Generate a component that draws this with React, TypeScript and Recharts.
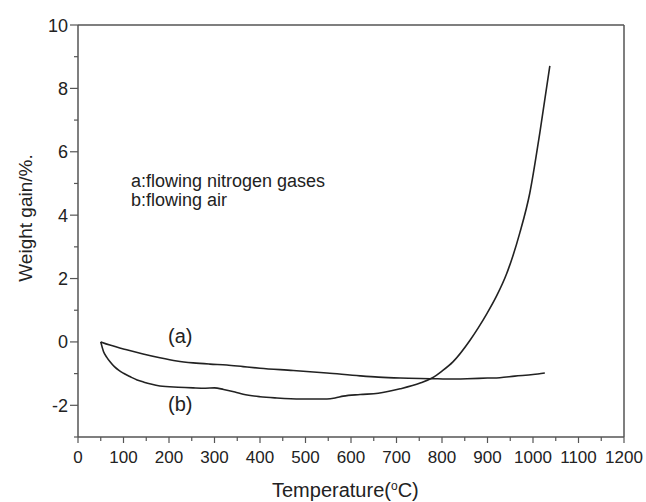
import { LineChart, Line, XAxis, YAxis, ReferenceLine } from 'recharts';

// curve (a): flowing nitrogen
const tempA = [50, 70, 107, 143, 180, 217, 253, 290, 327, 363, 400, 473, 547, 620, 660, 708, 780, 810, 855, 900, 927, 960, 1000, 1026];
const gainA = [0, -0.1, -0.25, -0.38, -0.5, -0.6, -0.66, -0.7, -0.73, -0.78, -0.83, -0.9, -0.98, -1.07, -1.11, -1.14, -1.16, -1.17, -1.16, -1.14, -1.13, -1.08, -1.03, -0.98];

// curve (b): flowing air
const tempB = [50, 56, 63, 70, 80, 90, 100, 115, 130, 145, 160, 180, 220, 253, 280, 300, 320, 345, 363, 400, 437, 490, 547, 565, 583, 620, 660, 708, 752, 778, 800, 824, 862, 880, 899, 920, 942, 971, 993, 1015, 1037];
const gainB = [0, -0.3, -0.48, -0.62, -0.78, -0.9, -0.99, -1.1, -1.2, -1.27, -1.33, -1.39, -1.43, -1.45, -1.46, -1.45, -1.5, -1.58, -1.65, -1.73, -1.77, -1.8, -1.8, -1.77, -1.71, -1.66, -1.62, -1.48, -1.3, -1.14, -0.92, -0.63, 0.06, 0.45, 0.9, 1.45, 2.15, 3.44, 4.7, 6.6, 8.71];

const xTicks = [0, 50, 100, 150, 200, 250, 300, 350, 400, 450, 500, 550, 600, 650, 700, 750, 800, 850, 900, 950, 1000, 1050, 1100, 1150, 1200];
const yTicks = [-3, -2, -1, 0, 1, 2, 3, 4, 5, 6, 7, 8, 9, 10];

const seriesA = tempA.map((t, i) => ({ t, v: gainA[i] }));
const seriesB = tempB.map((t, i) => ({ t, v: gainB[i] }));

const FONT = '"Liberation Sans", Arial, sans-serif';
const AXIS = '#555';
const INK = '#222';

const XTick = (props: any) => {
  const { x, y, payload } = props;
  const major = payload.value % 100 === 0;
  return (
    <g>
      <line x1={x} x2={x} y1={y} y2={y + (major ? 6 : 4)} stroke={AXIS} strokeWidth={1.2} />
      {major && (
        <text x={x} y={y + 26} textAnchor="middle" fontSize={17} fontFamily={FONT} fill={INK}>
          {payload.value}
        </text>
      )}
    </g>
  );
};

const YTick = (props: any) => {
  const { x, y, payload } = props;
  const major = payload.value % 2 === 0;
  return (
    <g>
      <line x1={x} x2={x - (major ? 8 : 4)} y1={y} y2={y} stroke={AXIS} strokeWidth={1.2} />
      {major && (
        <text x={x - 10} y={y + 6.5} textAnchor="end" fontSize={18} fontFamily={FONT} fill={INK}>
          {payload.value}
        </text>
      )}
    </g>
  );
};

const textStyle = {
  position: 'absolute' as const,
  fontFamily: FONT,
  fontSize: 18,
  color: INK,
  whiteSpace: 'nowrap' as const,
  lineHeight: '18px',
};

export default function App() {
  return (
    <div style={{ position: 'absolute', left: 0, top: 0, width: 646, height: 502, background: '#fff', overflow: 'hidden' }}>
      <LineChart width={646} height={502} margin={{ top: 25, right: 22, bottom: 35, left: 0 }}>
        <XAxis
          type="number"
          dataKey="t"
          domain={[0, 1200]}
          ticks={xTicks}
          interval={0}
          tickSize={0}
          tickMargin={0}
          height={30}
          axisLine={{ stroke: AXIS, strokeWidth: 1.5 }}
          tickLine={false}
          tick={<XTick />}
          allowDuplicatedCategory={false}
        />
        <YAxis
          type="number"
          dataKey="v"
          domain={[-3, 10]}
          ticks={yTicks}
          interval={0}
          tickSize={0}
          tickMargin={0}
          width={78}
          axisLine={{ stroke: AXIS, strokeWidth: 1.5 }}
          tickLine={false}
          tick={<YTick />}
        />
        <ReferenceLine y={10} stroke={AXIS} strokeWidth={1.5} />
        <ReferenceLine x={1200} stroke={AXIS} strokeWidth={1.5} />
        <Line data={seriesA} dataKey="v" type="monotone" stroke={INK} strokeWidth={1.6} dot={false} isAnimationActive={false} />
        <Line data={seriesB} dataKey="v" type="monotone" stroke={INK} strokeWidth={1.6} dot={false} isAnimationActive={false} />
      </LineChart>
      <div style={{ ...textStyle, left: 131, top: 172 }}>a:flowing nitrogen gases</div>
      <div style={{ ...textStyle, left: 131, top: 191 }}>b:flowing air</div>
      <div style={{ ...textStyle, fontSize: 20, lineHeight: '20px', left: 168, top: 326 }}>(a)</div>
      <div style={{ ...textStyle, fontSize: 20, lineHeight: '20px', left: 168, top: 394 }}>(b)</div>
      <div style={{ ...textStyle, fontSize: 20, lineHeight: '20px', left: 272, top: 476 }}>
        Temperature(<span style={{ fontSize: 12, verticalAlign: '7px' }}>o</span>C)
      </div>
      <div
        style={{
          ...textStyle,
          fontSize: 19,
          lineHeight: '19px',
          left: 25,
          top: 218,
          transform: 'translate(-50%, -50%) rotate(-90deg)',
        }}
      >
        Weight gain/%.
      </div>
    </div>
  );
}
